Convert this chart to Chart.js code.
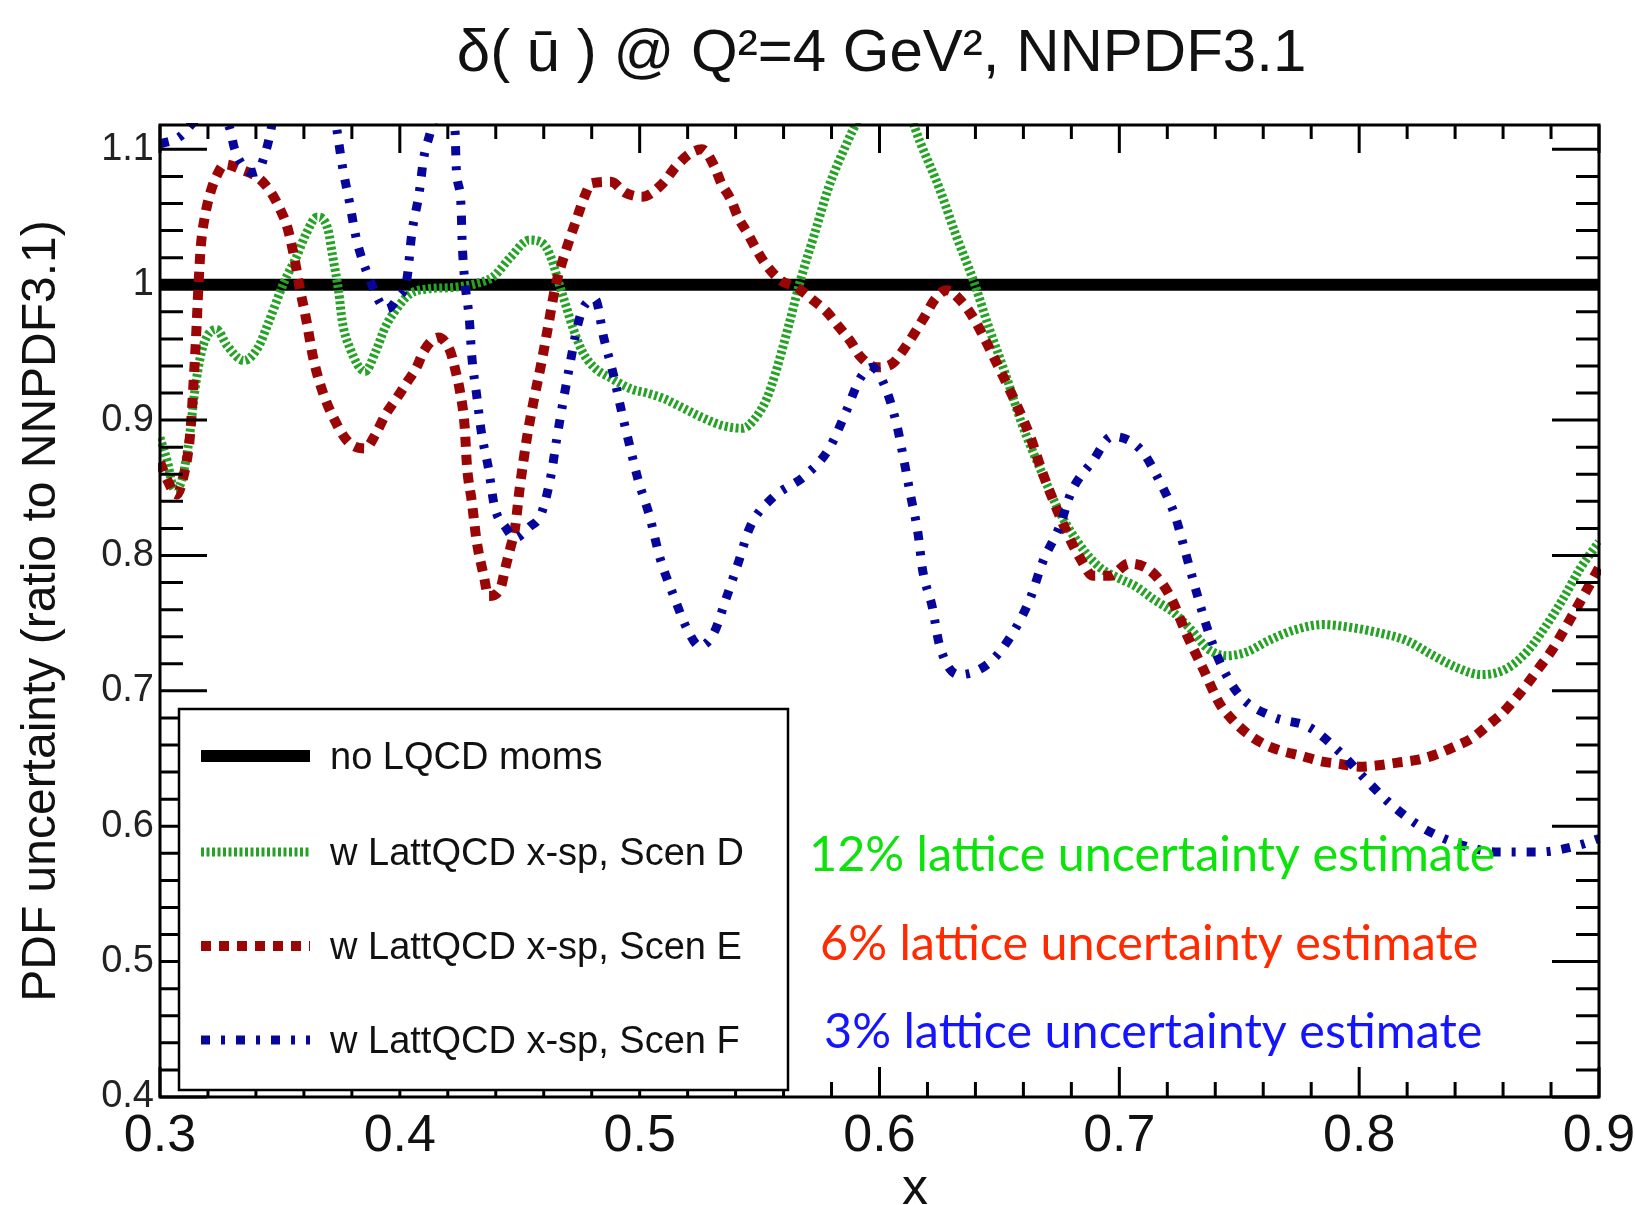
<!DOCTYPE html>
<html>
<head>
<meta charset="utf-8">
<title>PDF uncertainty ratio to NNPDF3.1</title>
<script src="https://cdn.jsdelivr.net/npm/chart.js@4.4.1/dist/chart.umd.min.js"></script>
<style>
  html, body { margin: 0; padding: 0; background: #fff; }
  canvas { display: block; }
</style>
</head>
<body>
<canvas id="pdf-ratio" width="1635" height="1205"></canvas>
<script>
// axis ticks
const xTicks = [0.3, 0.4, 0.5, 0.6, 0.7, 0.8, 0.9];
const xTickLabels = ['0.3', '0.4', '0.5', '0.6', '0.7', '0.8', '0.9'];
const yTicks = [0.4, 0.5, 0.6, 0.7, 0.8, 0.9, 1.0, 1.1];
const yTickLabels = ['0.4', '0.5', '0.6', '0.7', '0.8', '0.9', '1', '1.1'];

const seriesLabels = ['no LQCD moms', 'w LattQCD x-sp, Scen D', 'w LattQCD x-sp, Scen E', 'w LattQCD x-sp, Scen F'];
const noteTexts = ['12% lattice uncertainty estimate', '6% lattice uncertainty estimate', '3% lattice uncertainty estimate'];

// reference (no LQCD moments) is 1 everywhere
const baseX = [0.3, 0.9];
const baseY = [1, 1];

// Scen D (green)
const scenDx = [0.300, 0.303, 0.306, 0.309, 0.312, 0.315, 0.318, 0.3235, 0.328, 0.335, 0.341, 0.345, 0.352, 0.357, 0.361, 0.3655,
  0.370, 0.372, 0.3745, 0.376, 0.379, 0.3855, 0.390, 0.394, 0.399, 0.404, 0.412, 0.422, 0.432, 0.439, 0.446, 0.454, 0.460,
  0.4635, 0.466, 0.469, 0.472, 0.476, 0.481, 0.488, 0.4965, 0.503, 0.510, 0.518, 0.526, 0.5345, 0.543, 0.548, 0.553, 0.5565,
  0.562, 0.567, 0.573, 0.579, 0.586, 0.592, 0.602, 0.612, 0.617, 0.625, 0.632, 0.639, 0.6455, 0.6525, 0.659, 0.667, 0.676,
  0.686, 0.692, 0.700, 0.707, 0.714, 0.7225, 0.730, 0.737, 0.745, 0.7535, 0.762, 0.773, 0.785, 0.796, 0.808, 0.820, 0.830,
  0.841, 0.851, 0.861, 0.870, 0.8775, 0.885, 0.892, 0.900];
const scenDy = [0.887, 0.870, 0.849, 0.855, 0.884, 0.928, 0.955, 0.967, 0.955, 0.944, 0.954, 0.971, 1.003, 1.021, 1.038, 1.050,
  1.041, 1.021, 0.995, 0.973, 0.954, 0.936, 0.951, 0.969, 0.983, 0.993, 0.997, 0.998, 1.001, 1.006, 1.020, 1.033, 1.030,
  1.018, 1.003, 0.986, 0.969, 0.951, 0.939, 0.931, 0.923, 0.920, 0.916, 0.909, 0.902, 0.896, 0.894, 0.901, 0.916, 0.934,
  0.969, 1.003, 1.038, 1.073, 1.103, 1.125, 1.150, 1.128, 1.105, 1.071, 1.036, 1.004, 0.969, 0.934, 0.899, 0.864, 0.829,
  0.802, 0.791, 0.783, 0.777, 0.768, 0.758, 0.745, 0.731, 0.726, 0.729, 0.737, 0.745, 0.749, 0.747, 0.743, 0.737, 0.727,
  0.717, 0.712, 0.716, 0.729, 0.747, 0.768, 0.790, 0.810];

// Scen E (red)
const scenEx = [0.300, 0.303, 0.307, 0.310, 0.312, 0.313, 0.314, 0.315, 0.316, 0.317, 0.319, 0.321, 0.3235, 0.327, 0.334, 0.341,
  0.346, 0.350, 0.353, 0.356, 0.358, 0.361, 0.364, 0.368, 0.374, 0.379, 0.3855, 0.390, 0.394, 0.399, 0.403, 0.407, 0.410,
  0.416, 0.421, 0.423, 0.425, 0.427, 0.428, 0.430, 0.432, 0.435, 0.437, 0.442, 0.444, 0.446, 0.448, 0.450, 0.453, 0.456,
  0.459, 0.462, 0.4648, 0.469, 0.474, 0.477, 0.480, 0.488, 0.494, 0.501, 0.5097, 0.515, 0.521, 0.526, 0.531, 0.534, 0.538,
  0.541, 0.545, 0.549, 0.553, 0.559, 0.5655, 0.572, 0.578, 0.583, 0.588, 0.592, 0.599, 0.6055, 0.610, 0.6145, 0.619, 0.623,
  0.628, 0.6345, 0.639, 0.643, 0.650, 0.657, 0.663, 0.668, 0.674, 0.680, 0.684, 0.689, 0.696, 0.704, 0.712, 0.718, 0.722,
  0.728, 0.735, 0.742, 0.747, 0.753, 0.760, 0.767, 0.776, 0.784, 0.792, 0.800, 0.808, 0.816, 0.824, 0.832, 0.840, 0.847,
  0.854, 0.860, 0.865, 0.870, 0.875, 0.880, 0.888, 0.896, 0.900];
const scenEy = [0.869, 0.856, 0.845, 0.860, 0.880, 0.899, 0.928, 0.960, 0.998, 1.028, 1.053, 1.068, 1.080, 1.089, 1.085, 1.079,
  1.069, 1.056, 1.043, 1.020, 1.000, 0.974, 0.945, 0.920, 0.896, 0.883, 0.879, 0.890, 0.904, 0.917, 0.928, 0.939, 0.951,
  0.961, 0.951, 0.938, 0.922, 0.896, 0.866, 0.840, 0.811, 0.785, 0.770, 0.776, 0.791, 0.805, 0.820, 0.850, 0.887, 0.916,
  0.942, 0.971, 0.998, 1.024, 1.050, 1.065, 1.075, 1.076, 1.068, 1.065, 1.075, 1.087, 1.097, 1.100, 1.088, 1.075, 1.063,
  1.050, 1.038, 1.025, 1.014, 1.003, 0.998, 0.989, 0.980, 0.969, 0.958, 0.947, 0.939, 0.942, 0.952, 0.964, 0.977, 0.989,
  0.996, 0.987, 0.976, 0.963, 0.938, 0.912, 0.887, 0.861, 0.834, 0.810, 0.797, 0.785, 0.785, 0.794, 0.790, 0.779, 0.767,
  0.742, 0.716, 0.690, 0.679, 0.669, 0.661, 0.656, 0.652, 0.648, 0.646, 0.644, 0.645, 0.647, 0.649, 0.653, 0.659, 0.665,
  0.675, 0.684, 0.694, 0.705, 0.717, 0.729, 0.753, 0.778, 0.791];

// Scen F (blue)
const scenFx = [0.300, 0.308, 0.315, 0.321, 0.329, 0.331, 0.3345, 0.338, 0.341, 0.3435, 0.3455, 0.349, 0.360, 0.370, 0.3738,
  0.376, 0.379, 0.382, 0.387, 0.3945, 0.399, 0.403, 0.405, 0.408, 0.410, 0.412, 0.418, 0.423, 0.4235, 0.4255, 0.426, 0.427,
  0.429, 0.430, 0.432, 0.434, 0.437, 0.4395, 0.444, 0.448, 0.454, 0.459, 0.463, 0.4655, 0.468, 0.471, 0.474, 0.4765, 0.4815,
  0.485, 0.489, 0.4925, 0.496, 0.4995, 0.504, 0.5085, 0.514, 0.520, 0.525, 0.531, 0.536, 0.541, 0.546, 0.555, 0.569, 0.579,
  0.586, 0.592, 0.597, 0.602, 0.607, 0.610, 0.613, 0.616, 0.618, 0.622, 0.625, 0.633, 0.646, 0.656, 0.663, 0.668, 0.675,
  0.680, 0.689, 0.697, 0.709, 0.717, 0.7233, 0.7276, 0.732, 0.7365, 0.742, 0.750, 0.7638, 0.7793, 0.7918, 0.803, 0.814,
  0.8273, 0.843, 0.858, 0.875, 0.8916, 0.900];
const scenFy = [1.104, 1.109, 1.122, 1.130, 1.116, 1.101, 1.088, 1.083, 1.084, 1.095, 1.108, 1.140, 1.200, 1.160, 1.114,
  1.088, 1.061, 1.033, 1.006, 0.982, 0.990, 1.005, 1.038, 1.067, 1.094, 1.108, 1.140, 1.114, 1.087, 1.059, 1.031, 1.004,
  0.974, 0.947, 0.919, 0.891, 0.864, 0.836, 0.821, 0.813, 0.821, 0.831, 0.859, 0.887, 0.913, 0.942, 0.969, 0.983, 0.989,
  0.961, 0.934, 0.906, 0.880, 0.855, 0.830, 0.798, 0.771, 0.745, 0.733, 0.743, 0.768, 0.794, 0.821, 0.842, 0.859, 0.879,
  0.906, 0.931, 0.939, 0.926, 0.898, 0.872, 0.844, 0.817, 0.789, 0.762, 0.734, 0.712, 0.721, 0.744, 0.769, 0.795, 0.821,
  0.847, 0.870, 0.888, 0.878, 0.854, 0.829, 0.802, 0.774, 0.747, 0.721, 0.697, 0.681, 0.673, 0.655, 0.634, 0.615,
  0.598, 0.586, 0.581, 0.581, 0.586, 0.591];

const colors = { base: '#000000', D: '#26a326', E: '#9a0606', F: '#06069c' };
const dashes = { base: [], D: [3, 2.5], E: [10, 8], F: [9, 11, 4, 11] };
const widths = { base: 12, D: 9, E: 10, F: 9 };
const noteColors = ['#0be30b', '#ff2a00', '#1414ff'];

const pts = (xs, ys) => xs.map((x, i) => ({ x: x, y: ys[i] }));

function line(label, xs, ys, key, order) {
  return {
    label: label,
    data: pts(xs, ys),
    borderColor: colors[key],
    borderWidth: widths[key],
    borderDash: dashes[key],
    pointRadius: 0,
    fill: false,
    cubicInterpolationMode: key === 'base' ? 'default' : 'monotone',
    clip: 2,
    order: order
  };
}

const rootStyle = {
  id: 'rootStyle',
  afterDraw(chart) {
    const ctx = chart.ctx;
    const a = chart.chartArea;
    const xs = chart.scales.x;
    const ys = chart.scales.y;
    ctx.save();

    // inner ticks, ROOT style
    ctx.strokeStyle = '#000';
    ctx.lineWidth = 3;
    ctx.setLineDash([]);
    ctx.beginPath();
    for (let i = 0; i <= 30; i++) {
      const px = xs.getPixelForValue(0.3 + i * 0.02);
      const major = i % 5 === 0;
      ctx.moveTo(px, a.bottom);
      ctx.lineTo(px, a.bottom - (major ? 30 : 15));
      ctx.moveTo(px, a.top);
      ctx.lineTo(px, a.top + (major ? 28 : 14));
    }
    for (let i = 0; i <= 35; i++) {
      const py = ys.getPixelForValue(0.4 + i * 0.02);
      const major = i % 5 === 0;
      ctx.moveTo(a.left, py);
      ctx.lineTo(a.left + (major ? 47 : 23), py);
      ctx.moveTo(a.right, py);
      ctx.lineTo(a.right - (major ? 47 : 23), py);
    }
    ctx.stroke();
    ctx.strokeRect(a.left, a.top, a.right - a.left, a.bottom - a.top);

    // legend box
    const lx = a.left + 19, ly = a.top + 584, lw = 609, lh = 381;
    ctx.fillStyle = '#fff';
    ctx.fillRect(lx, ly, lw, lh);
    ctx.lineWidth = 2.5;
    ctx.strokeRect(lx, ly, lw, lh);
    const keys = ['base', 'D', 'E', 'F'];
    const rows = [47, 143, 237, 331];
    ctx.font = '38px "Liberation Sans", Arial, sans-serif';
    ctx.textAlign = 'left';
    ctx.textBaseline = 'middle';
    keys.forEach((k, i) => {
      const yy = ly + rows[i];
      ctx.beginPath();
      ctx.strokeStyle = colors[k];
      ctx.lineWidth = widths[k];
      ctx.setLineDash(dashes[k]);
      ctx.moveTo(lx + 22, yy);
      ctx.lineTo(lx + 131, yy);
      ctx.stroke();
      ctx.setLineDash([]);
      ctx.fillStyle = '#111';
      ctx.fillText(seriesLabels[i], lx + 151, yy + 3);
    });

    // lattice uncertainty notes
    ctx.font = '50px Lato, sans-serif';
    const fit = 687 / ctx.measureText(noteTexts[0]).width;
    ctx.font = (50 * fit).toFixed(1) + 'px Lato, sans-serif';
    const noteX = [809, 820, 824];
    const noteY = [855, 944, 1032];
    noteTexts.forEach((t, i) => {
      ctx.fillStyle = noteColors[i];
      ctx.fillText(t, noteX[i], noteY[i]);
    });

    // title and axis titles
    ctx.fillStyle = '#111';
    ctx.textAlign = 'center';
    ctx.font = '60px "Liberation Sans", Arial, sans-serif';
    ctx.fillText('\u03b4( \u016b ) @ Q\u00b2=4 GeV\u00b2, NNPDF3.1', (a.left + a.right) / 2 + 2, 54);
    ctx.font = '52px "Liberation Sans", Arial, sans-serif';
    ctx.fillText('x', 915, 1190);
    ctx.translate(42, (a.top + a.bottom) / 2);
    ctx.rotate(-Math.PI / 2);
    ctx.font = '48px "Liberation Sans", Arial, sans-serif';
    ctx.fillText('PDF uncertainty (ratio to NNPDF3.1)', 0, 0);
    ctx.restore();
  }
};

new Chart(document.getElementById('pdf-ratio'), {
  type: 'line',
  data: {
    datasets: [
      line(seriesLabels[0], baseX, baseY, 'base', 4),
      line(seriesLabels[1], scenDx, scenDy, 'D', 3),
      line(seriesLabels[2], scenEx, scenEy, 'E', 2),
      line(seriesLabels[3], scenFx, scenFy, 'F', 1)
    ]
  },
  plugins: [rootStyle],
  options: {
    responsive: false,
    animation: false,
    devicePixelRatio: 1,
    layout: { padding: { top: 125, right: 36, left: 0, bottom: 0 } },
    plugins: {
      legend: { display: false },
      tooltip: { enabled: false },
      title: { display: false }
    },
    scales: {
      x: {
        type: 'linear',
        min: 0.3,
        max: 0.9,
        grid: { display: false, drawTicks: false },
        border: { display: false },
        afterBuildTicks: s => { s.ticks = xTicks.map(v => ({ value: v })); },
        afterFit: s => { s.height = 108; s.paddingLeft = 0; s.paddingRight = 0; },
        ticks: {
          autoSkip: false,
          maxRotation: 0,
          padding: 8,
          color: '#111',
          font: { family: '"Liberation Sans", Arial, sans-serif', size: 52 },
          callback: (v, i) => xTickLabels[i]
        }
      },
      y: {
        type: 'linear',
        min: 0.4,
        max: 1.118,
        grid: { display: false, drawTicks: false },
        border: { display: false },
        afterBuildTicks: s => { s.ticks = yTicks.map(v => ({ value: v })); },
        afterFit: s => { s.width = 160; s.paddingTop = 0; s.paddingBottom = 0; },
        ticks: {
          padding: 6,
          color: '#222',
          font: { family: '"Liberation Sans", Arial, sans-serif', size: 38 },
          callback: (v, i) => yTickLabels[i]
        }
      }
    }
  }
});
</script>
</body>
</html>
